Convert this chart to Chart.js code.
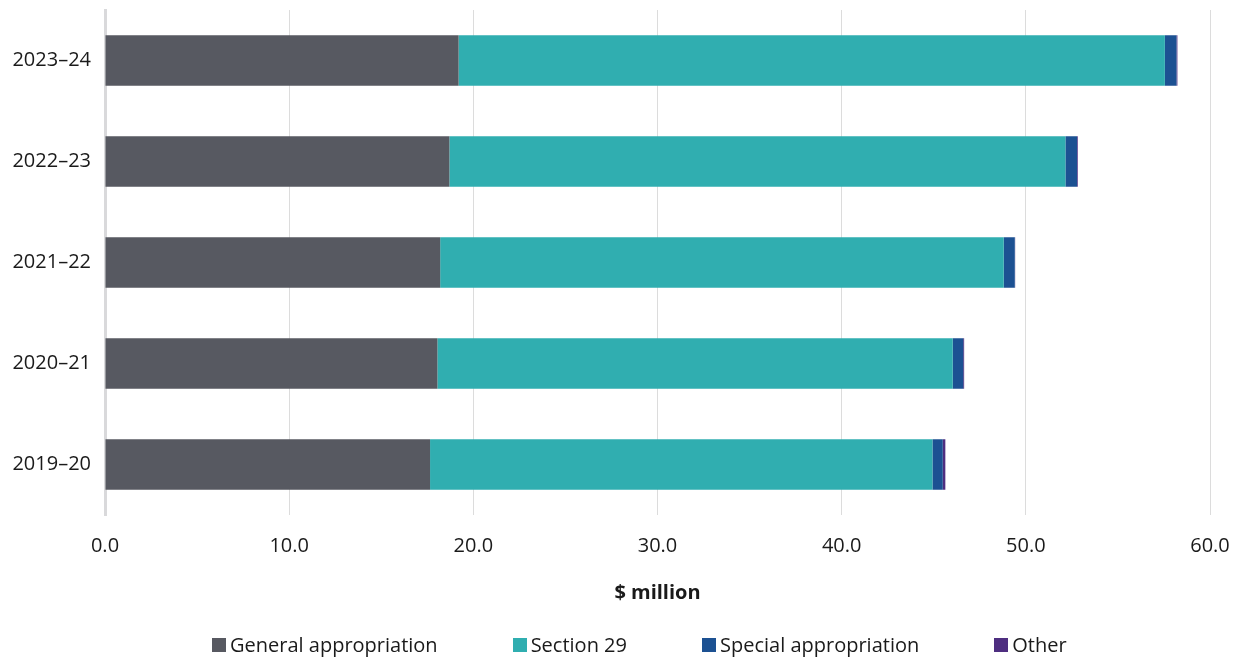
<!DOCTYPE html>
<html lang="en">
<head>
    <meta charset="UTF-8">
    <title>Appropriations by year</title>
    <script src="https://cdn.jsdelivr.net/npm/chart.js"></script>
    <style>
        html, body {
            margin: 0;
            padding: 0;
            background: #ffffff;
            font-family: 'Open Sans', 'Noto Sans', sans-serif;
        }
        .chart-container {
            position: relative;
            width: 1239px;
            height: 658px;
        }
        #legend {
            position: absolute;
            left: 212px;
            top: 631px;
            display: flex;
            align-items: center;
            gap: 75px;
            font-size: 20px;
            line-height: 28px;
            color: #1a1a1a;
            white-space: nowrap;
        }
        #legend .item {
            display: flex;
            align-items: center;
        }
        #legend .swatch {
            width: 14px;
            height: 14px;
            margin-right: 4px;
        }
    </style>
</head>
<body>

    <div class="chart-container">
        <canvas id="fundingChart"></canvas>
        <div id="legend"></div>
    </div>

    <script>
        // Years, newest first (top of the chart)
        const years = ["2023–24", "2022–23", "2021–22", "2020–21", "2019–20"];

        // $ million per funding source
        const generalAppropriation = [19.2, 18.7, 18.2, 18.05, 17.65];
        const section29 = [38.35, 33.45, 30.6, 27.98, 27.28];
        const specialAppropriation = [0.63, 0.63, 0.6, 0.57, 0.56];
        const other = [0.05, 0.04, 0.02, 0.05, 0.14];

        const xTicks = [0, 10, 20, 30, 40, 50, 60];

        const FONT = "'Open Sans', 'Noto Sans', sans-serif";
        const TEXT = "#1a1a1a";

        const ctx = document.getElementById("fundingChart").getContext("2d");

        const chart = new Chart(ctx, {
            type: "bar",
            data: {
                labels: years,
                datasets: [
                    { label: "General appropriation", data: generalAppropriation, backgroundColor: "#575961" },
                    { label: "Section 29", data: section29, backgroundColor: "#30aeb0" },
                    { label: "Special appropriation", data: specialAppropriation, backgroundColor: "#1c5192" },
                    { label: "Other", data: other, backgroundColor: "#4e2e80" }
                ]
            },
            options: {
                indexAxis: "y",
                responsive: true,
                maintainAspectRatio: false,
                animation: false,
                layout: {
                    padding: { top: 10, right: 29, bottom: 53, left: 0 }
                },
                datasets: {
                    bar: {
                        categoryPercentage: 1.0,
                        barPercentage: 0.5,
                        borderWidth: 0
                    }
                },
                scales: {
                    x: {
                        stacked: true,
                        min: 0,
                        max: 60,
                        afterBuildTicks: axis => {
                            axis.ticks = xTicks.map(v => ({ value: v }));
                        },
                        // keep the edge labels from pushing the plot area inwards
                        afterFit: scale => {
                            scale.paddingLeft = 0;
                            scale.paddingRight = 0;
                        },
                        grid: {
                            color: "#dcdcdc",
                            lineWidth: 1,
                            drawTicks: false
                        },
                        border: { display: false },
                        ticks: {
                            padding: 19,
                            color: TEXT,
                            font: { family: FONT, size: 20 },
                            callback: v => Number(v).toFixed(1)
                        },
                        title: {
                            display: true,
                            text: "$ million",
                            color: TEXT,
                            font: { family: FONT, size: 20, weight: "bold" },
                            padding: { top: 4, bottom: 0 }
                        }
                    },
                    y: {
                        stacked: true,
                        afterFit: scale => {
                            scale.width = 105;
                            scale.paddingTop = 0;
                            scale.paddingBottom = 0;
                        },
                        grid: { display: false, drawTicks: false },
                        border: { display: true, color: "#d9d9db", width: 3 },
                        ticks: {
                            padding: 14,
                            color: TEXT,
                            font: { family: FONT, size: 20 }
                        }
                    }
                },
                plugins: {
                    tooltip: { enabled: true },
                    legend: { display: false }
                }
            }
        });

        // Legend row under the axis title, built from the datasets
        const legendEl = document.getElementById("legend");
        chart.data.datasets.forEach(ds => {
            const item = document.createElement("span");
            item.className = "item";
            item.innerHTML = `<span class="swatch" style="background:${ds.backgroundColor}"></span>${ds.label}`;
            legendEl.appendChild(item);
        });
    </script>

</body>
</html>
